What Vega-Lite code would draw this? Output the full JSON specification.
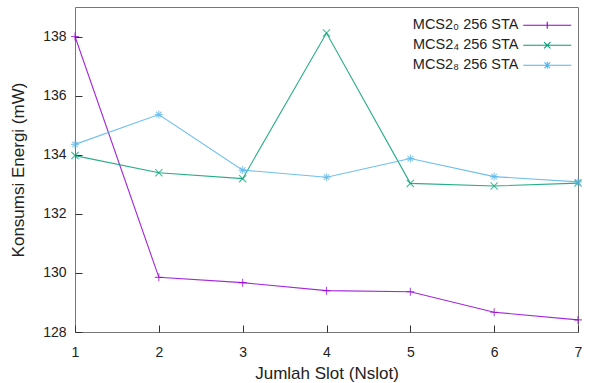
{
  "$schema": "https://vega.github.io/schema/vega-lite/v6.json",
  "autosize": "none",
  "width": 503,
  "height": 325,
  "padding": {"left": 75, "top": 7, "right": 12, "bottom": 51},
  "background": "white",
  "config": {
    "view": {"stroke": "#777", "strokeWidth": 1},
    "font": "Liberation Sans",
    "axis": {
      "domain": false,
      "grid": false,
      "tickSize": -7,
      "tickColor": "#333",
      "labelFont": "Liberation Sans",
      "labelFontSize": 14,
      "labelColor": "#222",
      "titleFont": "Liberation Sans",
      "titleFontSize": 17,
      "titleFontWeight": "normal",
      "titleColor": "#222"
    },
    "legend": {
      "labelFont": "Liberation Sans",
      "labelFontSize": 14.5,
      "labelColor": "#222"
    }
  },
  "data": {
    "values": [
      {"slot": 1, "energi": 138.0, "seri": "MCS2₀ 256 STA"},
      {"slot": 2, "energi": 129.85, "seri": "MCS2₀ 256 STA"},
      {"slot": 3, "energi": 129.67, "seri": "MCS2₀ 256 STA"},
      {"slot": 4, "energi": 129.4, "seri": "MCS2₀ 256 STA"},
      {"slot": 5, "energi": 129.36, "seri": "MCS2₀ 256 STA"},
      {"slot": 6, "energi": 128.67, "seri": "MCS2₀ 256 STA"},
      {"slot": 7, "energi": 128.41, "seri": "MCS2₀ 256 STA"},
      {"slot": 1, "energi": 133.97, "seri": "MCS2₄ 256 STA"},
      {"slot": 2, "energi": 133.39, "seri": "MCS2₄ 256 STA"},
      {"slot": 3, "energi": 133.19, "seri": "MCS2₄ 256 STA"},
      {"slot": 4, "energi": 138.12, "seri": "MCS2₄ 256 STA"},
      {"slot": 5, "energi": 133.03, "seri": "MCS2₄ 256 STA"},
      {"slot": 6, "energi": 132.94, "seri": "MCS2₄ 256 STA"},
      {"slot": 7, "energi": 133.04, "seri": "MCS2₄ 256 STA"},
      {"slot": 1, "energi": 134.35, "seri": "MCS2₈ 256 STA"},
      {"slot": 2, "energi": 135.36, "seri": "MCS2₈ 256 STA"},
      {"slot": 3, "energi": 133.48, "seri": "MCS2₈ 256 STA"},
      {"slot": 4, "energi": 133.24, "seri": "MCS2₈ 256 STA"},
      {"slot": 5, "energi": 133.87, "seri": "MCS2₈ 256 STA"},
      {"slot": 6, "energi": 133.26, "seri": "MCS2₈ 256 STA"},
      {"slot": 7, "energi": 133.08, "seri": "MCS2₈ 256 STA"}
    ]
  },
  "encoding": {
    "x": {
      "field": "slot", "type": "quantitative",
      "scale": {"domain": [1, 7], "zero": false, "nice": false},
      "axis": {"values": [1, 2, 3, 4, 5, 6, 7], "title": "Jumlah Slot (Nslot)", "labelPadding": 20, "titlePadding": 6, "labelFlush": false}
    },
    "y": {
      "field": "energi", "type": "quantitative",
      "scale": {"domain": [128, 139], "zero": false, "nice": false},
      "axis": {"values": [128, 130, 132, 134, 136, 138], "title": "Konsumsi Energi (mW)", "labelPadding": 16, "titlePadding": 15, "labelFlush": false}
    },
    "color": {
      "field": "seri", "type": "nominal",
      "scale": {"domain": ["MCS2₀ 256 STA", "MCS2₄ 256 STA", "MCS2₈ 256 STA"], "range": ["#9400d3", "#009e73", "#56b4e9"]},
      "legend": {
        "title": null,
        "orient": "none",
        "legendX": 465,
        "legendY": 11,
        "padding": 0,
        "rowPadding": 5,
        "symbolSize": 64,
        "symbolStrokeWidth": 1.1,
        "symbolOpacity": 1,
        "labelAlign": "right",
        "labelOffset": -36
      }
    }
  },
  "layer": [
    {
      "mark": {"type": "line", "strokeWidth": 1.1, "opacity": 0.85}
    },
    {
      "mark": {"type": "point", "filled": false, "size": 64, "strokeWidth": 1.1, "opacity": 0},
      "encoding": {
        "shape": {
          "field": "seri", "type": "nominal",
          "scale": {
            "domain": ["MCS2₀ 256 STA", "MCS2₄ 256 STA", "MCS2₈ 256 STA"],
            "range": ["M-6,0H6M0,-0.9V0.9", "M-6,0H6M-0.8,-0.8L0.8,0.8M-0.8,0.8L0.8,-0.8", "M-6,0H6M0,-0.9V0.9M-0.7,-0.7L0.7,0.7M-0.7,0.7L0.7,-0.7"]
          }
        }
      }
    },
    {
      "transform": [{"filter": "datum.seri === 'MCS2₀ 256 STA'"}],
      "mark": {"type": "point", "filled": false, "size": 64, "strokeWidth": 1.1, "shape": "M-1,0H1M0,-1V1"}
    },
    {
      "transform": [{"filter": "datum.seri === 'MCS2₄ 256 STA'"}],
      "mark": {"type": "point", "filled": false, "size": 64, "strokeWidth": 1.1, "shape": "M-0.9,-0.9L0.9,0.9M-0.9,0.9L0.9,-0.9"}
    },
    {
      "transform": [{"filter": "datum.seri === 'MCS2₈ 256 STA'"}],
      "mark": {"type": "point", "filled": false, "size": 64, "strokeWidth": 1.1, "shape": "M-1,0H1M0,-1V1M-0.7,-0.7L0.7,0.7M-0.7,0.7L0.7,-0.7"}
    }
  ]
}
